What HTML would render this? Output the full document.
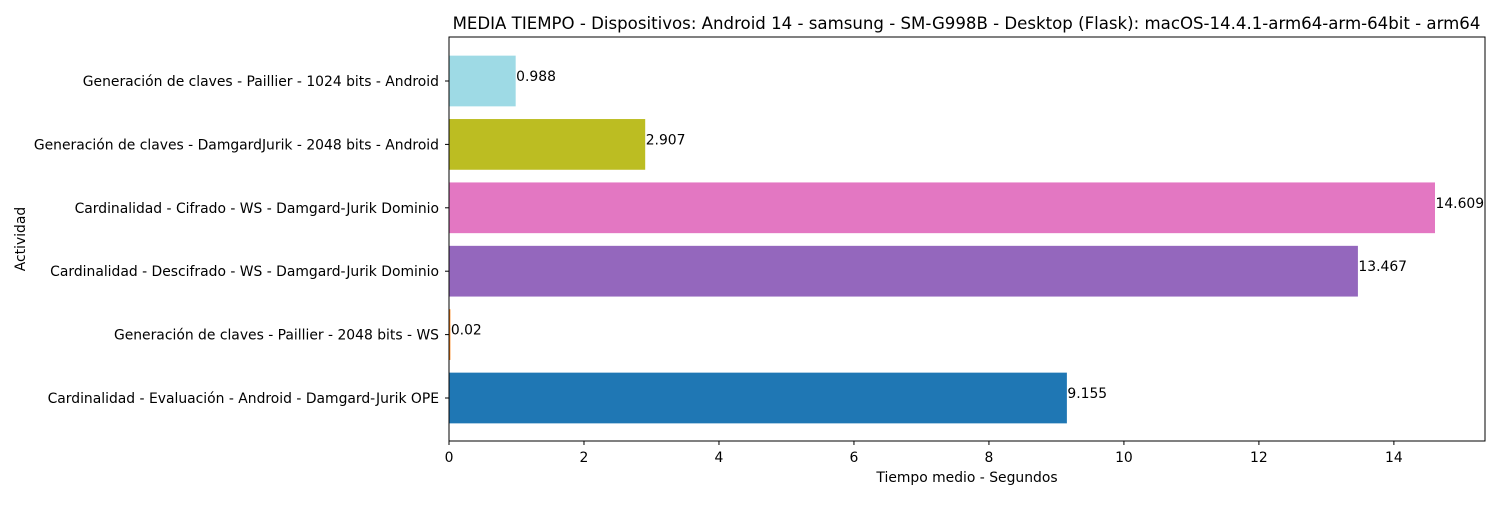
<!DOCTYPE html>
<html><head><meta charset="utf-8"><style>
body{margin:0;background:#fff;font-family:"Liberation Sans","DejaVu Sans",sans-serif;}
svg text{font-family:"DejaVu Sans","Liberation Sans",sans-serif;}
</style></head><body>
<svg id="chart" width="1500" height="500" xmlns="http://www.w3.org/2000/svg"></svg>
<script>
const categories=["Generación de claves - Paillier - 1024 bits - Android","Generación de claves - DamgardJurik - 2048 bits - Android","Cardinalidad - Cifrado - WS - Damgard-Jurik Dominio","Cardinalidad - Descifrado - WS - Damgard-Jurik Dominio","Generación de claves - Paillier - 2048 bits - WS","Cardinalidad - Evaluación - Android - Damgard-Jurik OPE"];
const values=[0.988,2.907,14.609,13.467,0.02,9.155];
const valueLabels=["0.988","2.907","14.609","13.467","0.02","9.155"];
const colors=["#9edae5","#bcbd22","#e377c2","#9467bd","#ff7f0e","#1f77b4"];
const xTicks=[0,2,4,6,8,10,12,14];
const L=449,R=1485,T=37,B=441,XMAX=15.35;
const svg=document.getElementById('chart');
const NS="http://www.w3.org/2000/svg";
function x(v){return L+(v/XMAX)*(R-L);}
const step=63.4;
function yc(i){return 81+step*i;}
function mk(tag,attrs,text){const e=document.createElementNS(NS,tag);for(const k in attrs)e.setAttribute(k,attrs[k]);if(text!==undefined)e.textContent=text;svg.appendChild(e);return e;}
let e;
e=mk('text',{x:(L+R)/2-0.5,y:29,'text-anchor':'middle','font-size':16.6},"MEDIA TIEMPO - Dispositivos: Android 14 - samsung - SM-G998B - Desktop (Flask): macOS-14.4.1-arm64-arm-64bit - arm64");


const bh=step*0.8;
values.forEach((v,i)=>{
 const r=mk('rect',{x:L,y:yc(i)-bh/2,width:x(v)-L,height:bh,fill:colors[i]});
 
 
 const t=mk('text',{x:x(v)+0.5,y:yc(i),'font-size':13.9},valueLabels[i]);
 
 
 mk('line',{x1:L-4,x2:L,y1:yc(i),y2:yc(i),stroke:'#000'});
 const c=mk('text',{x:L-10,y:yc(i)+5,'text-anchor':'end','font-size':13.9},categories[i]);
 
 
});
xTicks.forEach(t=>{
 mk('line',{x1:x(t),x2:x(t),y1:B,y2:B+4,stroke:'#000'});
 const l=mk('text',{x:x(t),y:B+21,'text-anchor':'middle','font-size':13.9},String(t));
 
 
});
e=mk('rect',{x:L,y:T,width:R-L,height:B-T,fill:'none',stroke:'#000','stroke-width':1});


e=mk('text',{x:(L+R)/2,y:482,'text-anchor':'middle','font-size':13.9},"Tiempo medio - Segundos");


e=mk('text',{x:25,y:(T+B)/2,'text-anchor':'middle','font-size':13.9,transform:'rotate(-90 25 '+((T+B)/2)+')'},"Actividad");


</script>
</body></html>
